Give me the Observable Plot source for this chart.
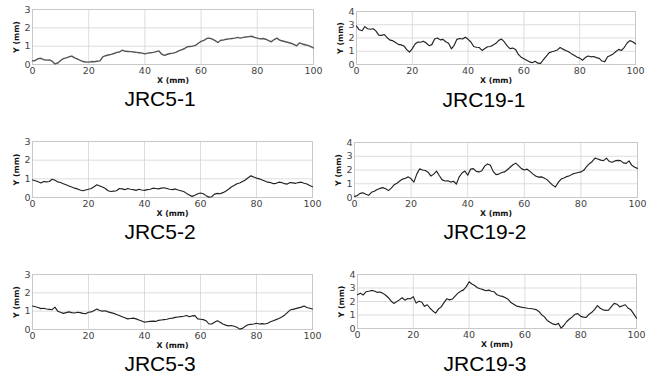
<!DOCTYPE html>
<html><head><meta charset="utf-8">
<script src="https://cdn.jsdelivr.net/npm/d3@7"></script>
<script src="https://cdn.jsdelivr.net/npm/@observablehq/plot@0.6"></script>
<style>
body{margin:0;background:#fff}
#c{position:relative;width:658px;height:377px;overflow:hidden;background:#fff}
#c svg{position:absolute}
.t{position:absolute;font:21px "Liberation Sans",Arial,sans-serif;color:#000;transform:translate(-50%,-50%);white-space:nowrap}
</style></head><body><div id="c"></div>
<script>
// ---- data ----
const titles = ["JRC5-1", "JRC19-1", "JRC5-2", "JRC19-2", "JRC5-3", "JRC19-3"];
const xStepMm = 1; // sample spacing along X (mm)
const xTicks = [0, 20, 40, 60, 80, 100];
const yTicks5 = [0, 1, 2, 3];
const yTicks19 = [0, 1, 2, 3, 4];
const xLabel = "X (mm)";
const yLabel = "Y (mm)";

const jrc5_1 = [0.20,0.22,0.32,0.34,0.26,0.24,0.25,0.18,0.03,0.08,0.22,0.32,0.36,0.42,0.46,0.36,0.30,0.22,0.16,0.14,
0.13,0.16,0.15,0.18,0.20,0.42,0.48,0.52,0.55,0.60,0.66,0.68,0.78,0.72,0.71,0.70,0.68,0.66,0.64,0.62,
0.58,0.62,0.64,0.66,0.70,0.74,0.56,0.50,0.56,0.60,0.62,0.66,0.74,0.80,0.86,0.96,0.98,1.00,1.04,1.16,
1.26,1.32,1.42,1.44,1.38,1.30,1.20,1.32,1.34,1.38,1.40,1.42,1.44,1.48,1.44,1.48,1.50,1.52,1.54,1.48,
1.44,1.40,1.42,1.38,1.30,1.24,1.36,1.44,1.32,1.28,1.24,1.20,1.16,1.10,1.02,1.18,1.12,1.08,1.04,0.98,0.90];

const jrc19_1 = [2.90,2.62,2.55,2.86,2.70,2.66,2.70,2.52,2.22,2.20,2.26,2.02,1.84,1.80,1.66,1.52,1.48,1.40,1.12,0.94,
1.20,1.55,1.70,1.68,1.76,1.62,1.42,1.50,1.92,2.00,1.86,1.90,1.72,1.60,1.18,1.45,1.90,1.96,1.92,2.06,
1.90,1.70,1.36,1.30,1.28,1.06,1.20,1.34,1.36,1.48,1.60,1.82,1.92,1.70,1.40,1.20,1.24,1.14,0.76,0.55,
0.44,0.32,0.20,0.14,0.24,0.10,0.08,0.36,0.62,0.88,0.96,1.02,1.10,1.28,1.16,1.06,0.96,0.82,0.70,0.56,
0.48,0.32,0.52,0.64,0.58,0.60,0.52,0.46,0.26,0.22,0.58,0.68,0.80,0.98,1.14,1.06,1.30,1.62,1.80,1.72,1.56];

const jrc5_2 = [0.94,0.90,0.84,0.78,0.86,0.84,0.86,0.98,0.92,0.84,0.80,0.74,0.68,0.62,0.56,0.50,0.46,0.40,0.36,0.40,
0.44,0.48,0.58,0.68,0.62,0.56,0.48,0.36,0.32,0.34,0.36,0.48,0.46,0.42,0.48,0.44,0.42,0.38,0.44,0.40,
0.38,0.42,0.44,0.50,0.48,0.46,0.50,0.52,0.48,0.44,0.42,0.46,0.40,0.36,0.32,0.22,0.14,0.06,0.12,0.20,
0.24,0.20,0.10,0.02,0.04,0.18,0.22,0.20,0.26,0.34,0.44,0.56,0.64,0.74,0.78,0.86,0.94,1.06,1.16,1.10,
1.04,1.00,0.94,0.88,0.82,0.80,0.74,0.76,0.82,0.80,0.74,0.72,0.80,0.78,0.76,0.80,0.82,0.76,0.72,0.64,0.58];

const jrc19_2 = [0.08,0.14,0.30,0.34,0.24,0.16,0.38,0.46,0.58,0.66,0.72,0.64,0.50,0.68,0.92,1.04,1.20,1.34,1.40,1.50,
1.36,1.12,1.70,2.08,2.00,1.96,1.84,1.56,1.70,1.92,1.58,1.28,1.20,1.22,1.12,1.18,0.98,1.50,1.78,1.92,
1.62,2.06,2.10,1.90,1.86,1.94,2.28,2.44,2.34,1.90,1.66,1.70,1.82,1.86,2.02,2.20,2.38,2.50,2.30,2.10,
2.00,2.06,1.90,1.72,1.56,1.48,1.50,1.42,1.30,1.10,0.90,0.76,1.10,1.34,1.42,1.52,1.58,1.70,1.76,1.82,
1.86,1.98,2.24,2.46,2.62,2.86,2.80,2.72,2.68,2.86,2.62,2.56,2.66,2.70,2.68,2.52,2.48,2.66,2.34,2.20,2.12];

const jrc5_3 = [1.28,1.24,1.20,1.14,1.16,1.12,1.10,1.08,1.22,1.00,0.94,0.88,0.92,0.96,0.92,0.90,0.94,0.92,0.88,0.86,
0.94,0.96,1.04,1.12,1.04,1.00,1.02,0.96,0.92,0.88,0.82,0.76,0.70,0.64,0.58,0.60,0.62,0.58,0.52,0.46,
0.40,0.42,0.44,0.46,0.44,0.50,0.52,0.54,0.56,0.60,0.62,0.66,0.68,0.70,0.72,0.76,0.70,0.74,0.76,0.58,
0.56,0.54,0.48,0.30,0.30,0.40,0.48,0.40,0.30,0.24,0.20,0.22,0.18,0.12,0.02,0.06,0.18,0.26,0.28,0.30,
0.34,0.30,0.32,0.30,0.34,0.42,0.48,0.54,0.60,0.68,0.78,0.92,1.06,1.10,1.14,1.18,1.22,1.28,1.20,1.16,1.12];

const jrc19_3 = [2.50,2.62,2.48,2.72,2.76,2.82,2.78,2.68,2.70,2.62,2.48,2.30,2.04,1.86,1.98,2.12,2.28,2.10,2.22,2.20,
2.36,1.88,2.02,1.96,1.64,1.76,1.50,1.30,1.14,1.44,1.60,1.92,2.20,2.12,2.18,2.40,2.62,2.76,2.86,3.10,
3.46,3.30,3.18,3.02,2.94,2.88,2.80,2.84,2.76,2.72,2.50,2.42,2.38,2.28,2.16,1.92,1.80,1.66,1.62,1.56,
1.54,1.50,1.48,1.44,1.40,1.26,1.02,0.86,0.60,0.46,0.34,0.28,0.38,0.02,0.24,0.52,0.70,0.86,1.06,1.10,
0.90,0.84,0.82,1.06,1.20,1.42,1.70,1.50,1.38,1.34,1.36,1.62,1.86,1.80,1.60,1.68,1.76,1.50,1.38,1.08,0.76];

// ---- layout (frames of each plot area in page pixels) ----
const panels = [
  {title: titles[0], ys: jrc5_1,  yTicks: yTicks5,  L: 32,  T: 9,   R: 313, B: 64,  color: "#555", sw: 1.4, tx: 160, ty: 98.5},
  {title: titles[1], ys: jrc19_1, yTicks: yTicks19, L: 356, T: 11,  R: 635, B: 64,  color: "#222", sw: 1.15, tx: 484, ty: 99.5},
  {title: titles[2], ys: jrc5_2,  yTicks: yTicks5,  L: 32,  T: 141, R: 312, B: 197, color: "#222", sw: 1.15, tx: 160, ty: 231.5},
  {title: titles[3], ys: jrc19_2, yTicks: yTicks19, L: 354, T: 142, R: 637, B: 197, color: "#222", sw: 1.15, tx: 485, ty: 231.5},
  {title: titles[4], ys: jrc5_3,  yTicks: yTicks5,  L: 32,  T: 274, R: 312, B: 329, color: "#222", sw: 1.15, tx: 160, ty: 364},
  {title: titles[5], ys: jrc19_3, yTicks: yTicks19, L: 357, T: 274, R: 636, B: 328, color: "#222", sw: 1.15, tx: 485, ty: 364}
];

const container = document.getElementById("c");
const mL = 32, mT = 8, mR = 12, mB = 26;

for (const p of panels) {
  const data = p.ys.map((y, i) => ({x: i * xStepMm, y}));
  const yMax = p.yTicks[p.yTicks.length - 1];
  const chart = Plot.plot({
    width: mL + (p.R - p.L) + mR,
    height: mT + (p.B - p.T) + mB,
    marginLeft: mL, marginTop: mT, marginRight: mR, marginBottom: mB,
    style: {fontFamily: "DejaVu Sans, sans-serif", background: "transparent", overflow: "visible"},
    x: {domain: [0, 100]},
    y: {domain: [0, yMax]},
    marks: [
      Plot.gridX(xTicks, {stroke: "#d4d4d4", strokeOpacity: 1, strokeWidth: 0.8}),
      Plot.gridY(p.yTicks, {stroke: "#d4d4d4", strokeOpacity: 1, strokeWidth: 0.8}),
      Plot.frame({stroke: "#c8c8c8", strokeWidth: 1}),
      Plot.line(data, {x: "x", y: "y", stroke: p.color, strokeWidth: p.sw}),
      Plot.axisX({ticks: xTicks, tickFormat: "d", tickSize: 0, tickPadding: 3, fontSize: 9.5, fill: "#444", label: null}),
      Plot.axisY({ticks: p.yTicks, tickFormat: "d", tickSize: 0, tickPadding: 2, fontSize: 9.5, fill: "#444", label: null}),
      Plot.text([xLabel], {frameAnchor: "bottom", dy: 16, lineAnchor: "middle", textAnchor: "middle", text: d => d, fontSize: 7.8, fontWeight: "bold", fill: "#111"}),
      Plot.text([yLabel], {frameAnchor: "left", dx: -16, rotate: -90, lineAnchor: "middle", textAnchor: "middle", text: d => d, fontSize: 7.8, fontWeight: "bold", fill: "#111"})
    ]
  });
  chart.style.left = (p.L - mL) + "px";
  chart.style.top = (p.T - mT) + "px";
  container.appendChild(chart);
  const t = document.createElement("div");
  t.className = "t";
  t.textContent = p.title;
  t.style.left = p.tx + "px";
  t.style.top = p.ty + "px";
  container.appendChild(t);
}
</script></body></html>
